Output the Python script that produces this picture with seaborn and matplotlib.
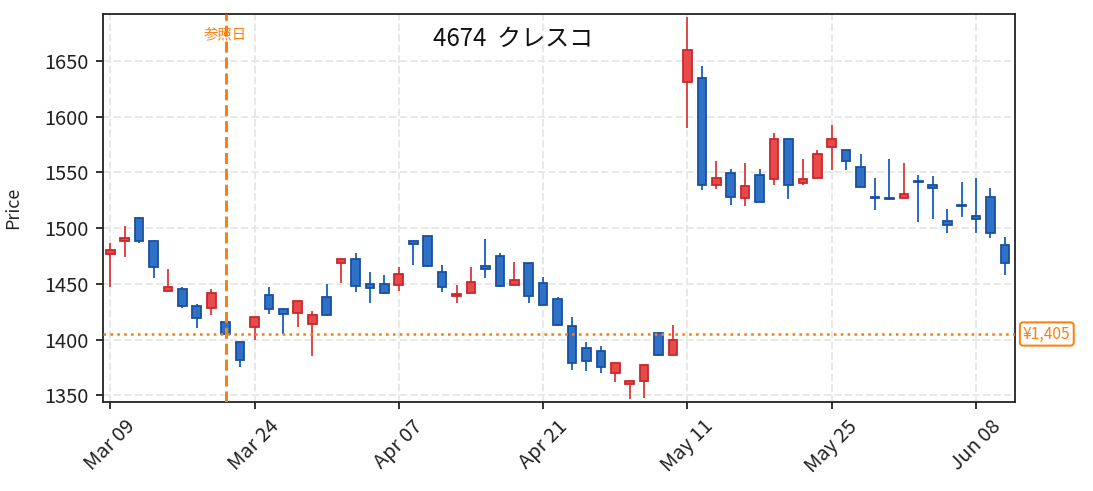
import matplotlib
matplotlib.use("Agg")
import matplotlib.pyplot as plt
import seaborn as sns
import pandas as pd
import numpy as np

# ---- data ----
dates = ["Mar 09", "Mar 10", "Mar 11", "Mar 12", "Mar 13", "Mar 16", "Mar 17", "Mar 18", "Mar 19",
         "Mar 23", "Mar 24", "Mar 25", "Mar 26", "Mar 27", "Mar 30", "Mar 31",
         "Apr 01", "Apr 02", "Apr 03", "Apr 06", "Apr 07", "Apr 08", "Apr 09", "Apr 10",
         "Apr 13", "Apr 14", "Apr 15", "Apr 16", "Apr 17", "Apr 20", "Apr 21", "Apr 22",
         "Apr 23", "Apr 24", "Apr 27", "Apr 28", "Apr 30", "May 01", "May 07", "May 08",
         "May 11", "May 12", "May 13", "May 14", "May 15", "May 18", "May 19", "May 20",
         "May 21", "May 22", "May 25", "May 26", "May 27", "May 28", "May 29", "Jun 01",
         "Jun 02", "Jun 03", "Jun 04", "Jun 05", "Jun 08", "Jun 09", "Jun 10"]
opens  = [1477, 1488, 1509, 1488, 1444, 1445, 1430, 1428, 1416, 1398, 1411, 1440, 1427, 1424, 1414, 1438,
          1469, 1472, 1450, 1450, 1449, 1488, 1493, 1461, 1439, 1442, 1466, 1475, 1449, 1469, 1451, 1436,
          1412, 1392, 1390, 1370, 1360, 1363, 1406, 1386, 1631, 1635, 1539, 1549, 1527, 1548, 1544, 1580,
          1540, 1545, 1573, 1570, 1555, 1528, 1527, 1527, 1542, 1539, 1506, 1521, 1511, 1528, 1485]
highs  = [1487, 1502, 1510, 1489, 1463, 1447, 1432, 1445, 1418, 1398, 1420, 1447, 1428, 1435, 1426, 1450,
          1472, 1478, 1461, 1458, 1465, 1488, 1493, 1467, 1449, 1465, 1490, 1478, 1470, 1469, 1456, 1438,
          1420, 1398, 1394, 1379, 1363, 1378, 1406, 1413, 1689, 1645, 1560, 1553, 1558, 1553, 1585, 1580,
          1562, 1570, 1592, 1570, 1566, 1545, 1562, 1558, 1548, 1547, 1517, 1541, 1545, 1536, 1492]
lows   = [1447, 1474, 1487, 1455, 1443, 1428, 1410, 1422, 1404, 1375, 1400, 1423, 1405, 1411, 1385, 1421,
          1451, 1443, 1433, 1441, 1444, 1467, 1465, 1443, 1433, 1442, 1455, 1447, 1449, 1433, 1431, 1412,
          1373, 1372, 1370, 1362, 1347, 1348, 1385, 1386, 1590, 1534, 1535, 1521, 1520, 1523, 1539, 1526,
          1539, 1545, 1552, 1552, 1537, 1516, 1525, 1527, 1505, 1508, 1496, 1510, 1496, 1491, 1458]
closes = [1480, 1491, 1488, 1465, 1447, 1430, 1419, 1442, 1405, 1382, 1420, 1427, 1423, 1435, 1422, 1422,
          1472, 1448, 1446, 1442, 1459, 1486, 1466, 1447, 1441, 1452, 1463, 1448, 1453, 1439, 1431, 1413,
          1379, 1381, 1375, 1379, 1363, 1377, 1386, 1400, 1660, 1539, 1545, 1528, 1538, 1523, 1580, 1539,
          1544, 1566, 1580, 1560, 1537, 1527, 1526, 1531, 1541, 1536, 1503, 1520, 1508, 1496, 1469]
ref_index = 8
ref_price = 1405
title = "4674  クレスコ"
ref_label = "参照日"
price_label = "¥1,405"
tick_every = 10

# ---- style ----
sns.set_theme(style="ticks")
plt.rcParams["font.family"] = ["Noto Sans CJK JP", "DejaVu Sans"]

UP_FACE, UP_EDGE, UP_WICK = "#e84a4a", "#c8282c", "#e04a4a"
DN_FACE, DN_EDGE, DN_WICK = "#2e72c8", "#1a4f9e", "#2a6fc6"
ORANGE = "#ff7f0e"

df = pd.DataFrame({"date": dates, "open": opens, "high": highs, "low": lows, "close": closes})
df["idx"] = np.arange(len(df))
df["up"] = df["close"] >= df["open"]
df["bottom"] = df[["open", "close"]].min(axis=1)
df["height"] = (df["close"] - df["open"]).abs()

DPI = 144
fig = plt.figure(figsize=(1093 / DPI, 491 / DPI), dpi=DPI)
ax = fig.add_axes([103 / 1093, 1 - 402 / 491, (1015 - 103) / 1093, (402 - 14) / 491])

ax.grid(True, linestyle="--", color="#e8e8e8", linewidth=1.0, zorder=0)
ax.set_axisbelow(True)

for up, face, edge, wick in [(True, UP_FACE, UP_EDGE, UP_WICK), (False, DN_FACE, DN_EDGE, DN_WICK)]:
    sub = df[df["up"] == up]
    ax.vlines(sub["idx"], sub["low"], sub["high"], color=wick, linewidth=1.0, zorder=2)
    ax.bar(sub["idx"], sub["height"], bottom=sub["bottom"], width=0.6,
           color=face, edgecolor=edge, linewidth=0.9, zorder=3)

ax.axvline(ref_index, color=ORANGE, linestyle="--", linewidth=1.5, zorder=4)
ax.axhline(ref_price, color=ORANGE, linestyle=":", linewidth=1.3, zorder=4)

ax.set_xlim(-0.5, 62.7)
ax.set_ylim(1344, 1692)

ticks = df["idx"][::tick_every]
ax.set_xticks(ticks)
ax.set_xticklabels(df["date"][::tick_every], rotation=45, fontsize=10)
ax.set_yticks([1350, 1400, 1450, 1500, 1550, 1600, 1650])
ax.tick_params(axis="y", labelsize=10)
ax.tick_params(length=3.5, width=0.9, colors="#222222", labelcolor="#222222")
for s in ax.spines.values():
    s.set_color("#222222")
    s.set_linewidth(0.9)

ax.set_ylabel("Price", fontsize=9)
ax.yaxis.set_label_coords(-0.089, 0.5)

ax.text(0.45, 0.936, title, transform=ax.transAxes, ha="center", va="center",
        fontsize=12, color="#111111")
ax.text(ref_index, 1674, ref_label, ha="center", va="center", fontsize=7.2, color=ORANGE)
ax.annotate(price_label, xy=(1.0, ref_price), xycoords=("axes fraction", "data"),
            xytext=(4, 0), textcoords="offset points", ha="left", va="center",
            fontsize=7.8, color=ORANGE,
            bbox=dict(boxstyle="round,pad=0.2", fc="white", ec=ORANGE, lw=1.0),
            annotation_clip=False)

fig.savefig("out.png", dpi=DPI)
